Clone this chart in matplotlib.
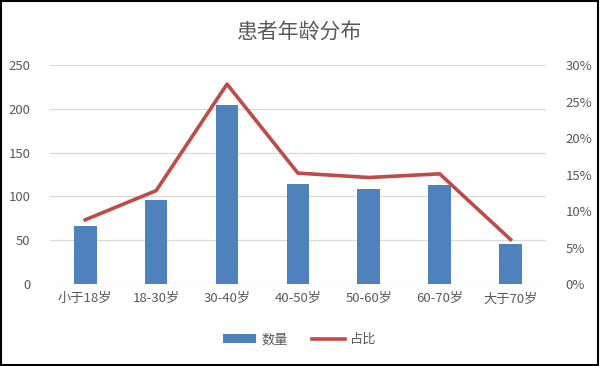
import matplotlib
matplotlib.use('Agg')
import matplotlib.pyplot as plt
import numpy as np
from matplotlib.ticker import PercentFormatter

plt.rcParams['font.family'] = ['Noto Sans CJK SC', 'DejaVu Sans']

categories = ['小于18岁', '18-30岁', '30-40岁', '40-50岁', '50-60岁', '60-70岁', '大于70岁']
counts = [66, 96, 205, 114, 109, 113, 46]
shares = [0.088, 0.128, 0.274, 0.152, 0.146, 0.151, 0.061]

BAR = '#4F81BD'
LINE = '#BE4B48'
TXT = '#595959'
GRID = '#D9D9D9'

fig = plt.figure(figsize=(6, 3.66), dpi=100)
fig.patches.append(plt.Rectangle((0.002, 0.003), 0.994, 0.993, transform=fig.transFigure,
                                 fill=False, edgecolor='black', linewidth=1.5))

ax = fig.add_axes([0.083, 0.224, 0.827, 0.598])
x = np.arange(len(categories))
bars = ax.bar(x, counts, width=0.32, color=BAR, label='数量', zorder=2)
ax.set_xlim(-0.5, len(categories) - 0.5)
ax.set_ylim(0, 250)
ax.set_yticks(range(0, 251, 50))
ax.grid(axis='y', color=GRID, linewidth=0.9, zorder=0)
ax.set_axisbelow(True)
for s in ax.spines.values():
    s.set_visible(False)
ax.tick_params(length=0, colors=TXT, labelsize=9.5)
ax.tick_params(axis='y', pad=14)
ax.tick_params(axis='x', pad=6)
ax.set_xticks(x)
ax.set_xticklabels(categories)

ax2 = ax.twinx()
line, = ax2.plot(x, shares, color=LINE, linewidth=2.6, label='占比', zorder=3)
ax2.set_ylim(0, 0.30)
ax2.set_yticks(np.arange(0, 0.31, 0.05))
ax2.yaxis.set_major_formatter(PercentFormatter(1.0, decimals=0))
for s in ax2.spines.values():
    s.set_visible(False)
ax2.tick_params(length=0, colors=TXT, labelsize=9.5, pad=14)

fig.text(0.5, 0.91, '患者年龄分布', ha='center', va='center', fontsize=15, color=TXT)

fig.legend([bars, line], ['数量', '占比'], loc='center', bbox_to_anchor=(0.5, 0.072),
           ncol=2, frameon=False, fontsize=9.5, labelcolor=TXT,
           handlelength=2.5, columnspacing=1.8, handletextpad=0.4)

fig.savefig('out.png', dpi=100)
